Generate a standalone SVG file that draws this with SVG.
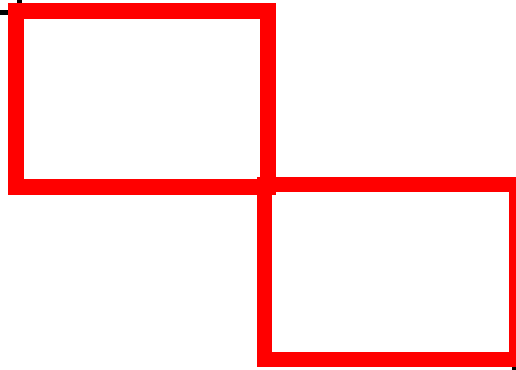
<svg xmlns="http://www.w3.org/2000/svg" width="516" height="370" viewBox="0 0 516 370">
<style>
.box{fill:none;stroke:#ff0000}
.tick{stroke:#000000;stroke-width:5;fill:none}
</style>
<rect width="516" height="370" fill="#ffffff"/>
<g id="marks">
<line class="tick" x1="0" y1="12.5" x2="9" y2="12.5"/>
<line class="tick" x1="19.5" y1="0" x2="19.5" y2="4"/>
<line class="tick" x1="514.5" y1="366" x2="514.5" y2="370"/>
</g>
<g id="node1"><rect class="box" x="16" y="11" width="252" height="176" stroke-width="16"/></g>
<g id="node2"><rect class="box" x="264.5" y="184.5" width="252" height="175" stroke-width="15"/></g>
<g id="connectors"></g>
</svg>
